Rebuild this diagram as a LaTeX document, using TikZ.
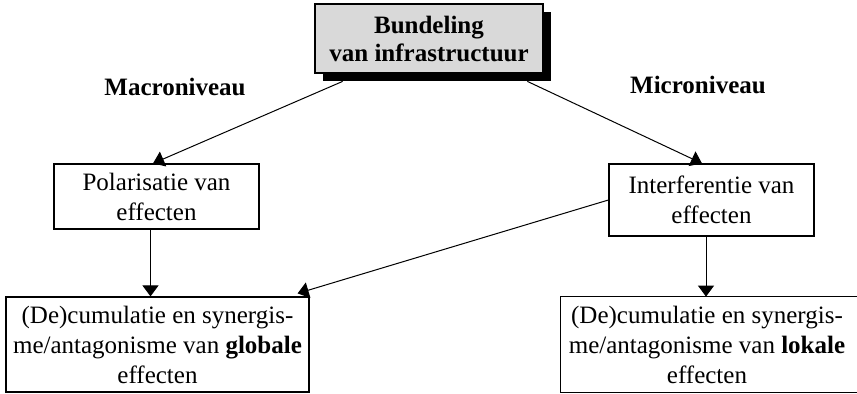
\documentclass[tikz,border=0pt]{standalone}
\usepackage{fontspec}
\setmainfont{Liberation Serif}
\usetikzlibrary{arrows.meta,calc}
\definecolor{boxgray}{HTML}{D9D9D9}
\begin{document}
\begin{tikzpicture}[x=0.5pt,y=-0.5pt,
  txt/.style={font=\fontsize{12.5pt}{15pt}\selectfont, align=center, inner sep=0pt},
  box/.style={draw=black, line width=0.6pt, align=center, inner sep=0pt,
    font=\fontsize{12.5pt}{15pt}\selectfont},
  link/.style={draw=black, line width=0.5pt, -{Triangle[length=5.5pt,width=8pt]}},
  heading/.style={font=\fontsize{12.5pt}{15pt}\selectfont\bfseries}]
\useasboundingbox (0,0) rectangle (857,393);
\clip (0,0) rectangle (857,393);

% title box with its drop shadow
\node[fill=black, inner sep=0pt, minimum width=114pt, minimum height=34.5pt]
  (topshadow) at (437,46.5) {};
\node[box, fill=boxgray, minimum width=114pt, minimum height=34.5pt,
  font=\fontsize{12.5pt}{14pt}\selectfont\bfseries]
  (top) at (429,38.5) {Bundeling\\van infrastructuur};

% level headings
\node[heading] (macro) at (175,87) {Macroniveau};
\node[heading] (micro) at (698,85) {Microniveau};

% middle row
\node[box, minimum width=102.5pt, minimum height=32.5pt]
  (pol) at (156.5,196.5) {Polarisatie van\\effecten};
\node[box, minimum width=102.5pt, minimum height=36pt]
  (int) at (711.5,200) {Interferentie van\\effecten};

% bottom row (the right box runs on past the page edge, so no right side)
\node[box, minimum width=151.5pt, minimum height=47.5pt]
  (gl) at (157.5,344.5) {(De)cumulatie en synergis-\\me/antagonisme van \textbf{globale}\\effecten};
\node[inner sep=0pt, minimum width=180pt, minimum height=47.5pt]
  (lo) at (741,344.5) {};
\draw[line width=0.6pt] (lo.north east) -- (lo.north west) -- (lo.south west) -- (lo.south east);
\node[txt] (lotext) at (707,344.5)
  {(De)cumulatie en synergis-\\me/antagonisme van \textbf{lokale}\\effecten};

% connectors
\draw[link] ([xshift=10pt]topshadow.south west) -- ([xshift=-1.75pt]pol.north);
\draw[link] ([xshift=-12pt]topshadow.south east) -- ([xshift=-4.75pt]int.north);
\draw[link] ([xshift=-3pt]pol.south) -- ([xshift=-3pt]pol.south |- gl.north);
\draw[link] ([xshift=-2.75pt]int.south) -- ([xshift=-2.75pt]int.south |- lo.north);
\draw[link] (int.west) -- ([xshift=-6pt,yshift=1.5pt]gl.north east);
\end{tikzpicture}
\end{document}
